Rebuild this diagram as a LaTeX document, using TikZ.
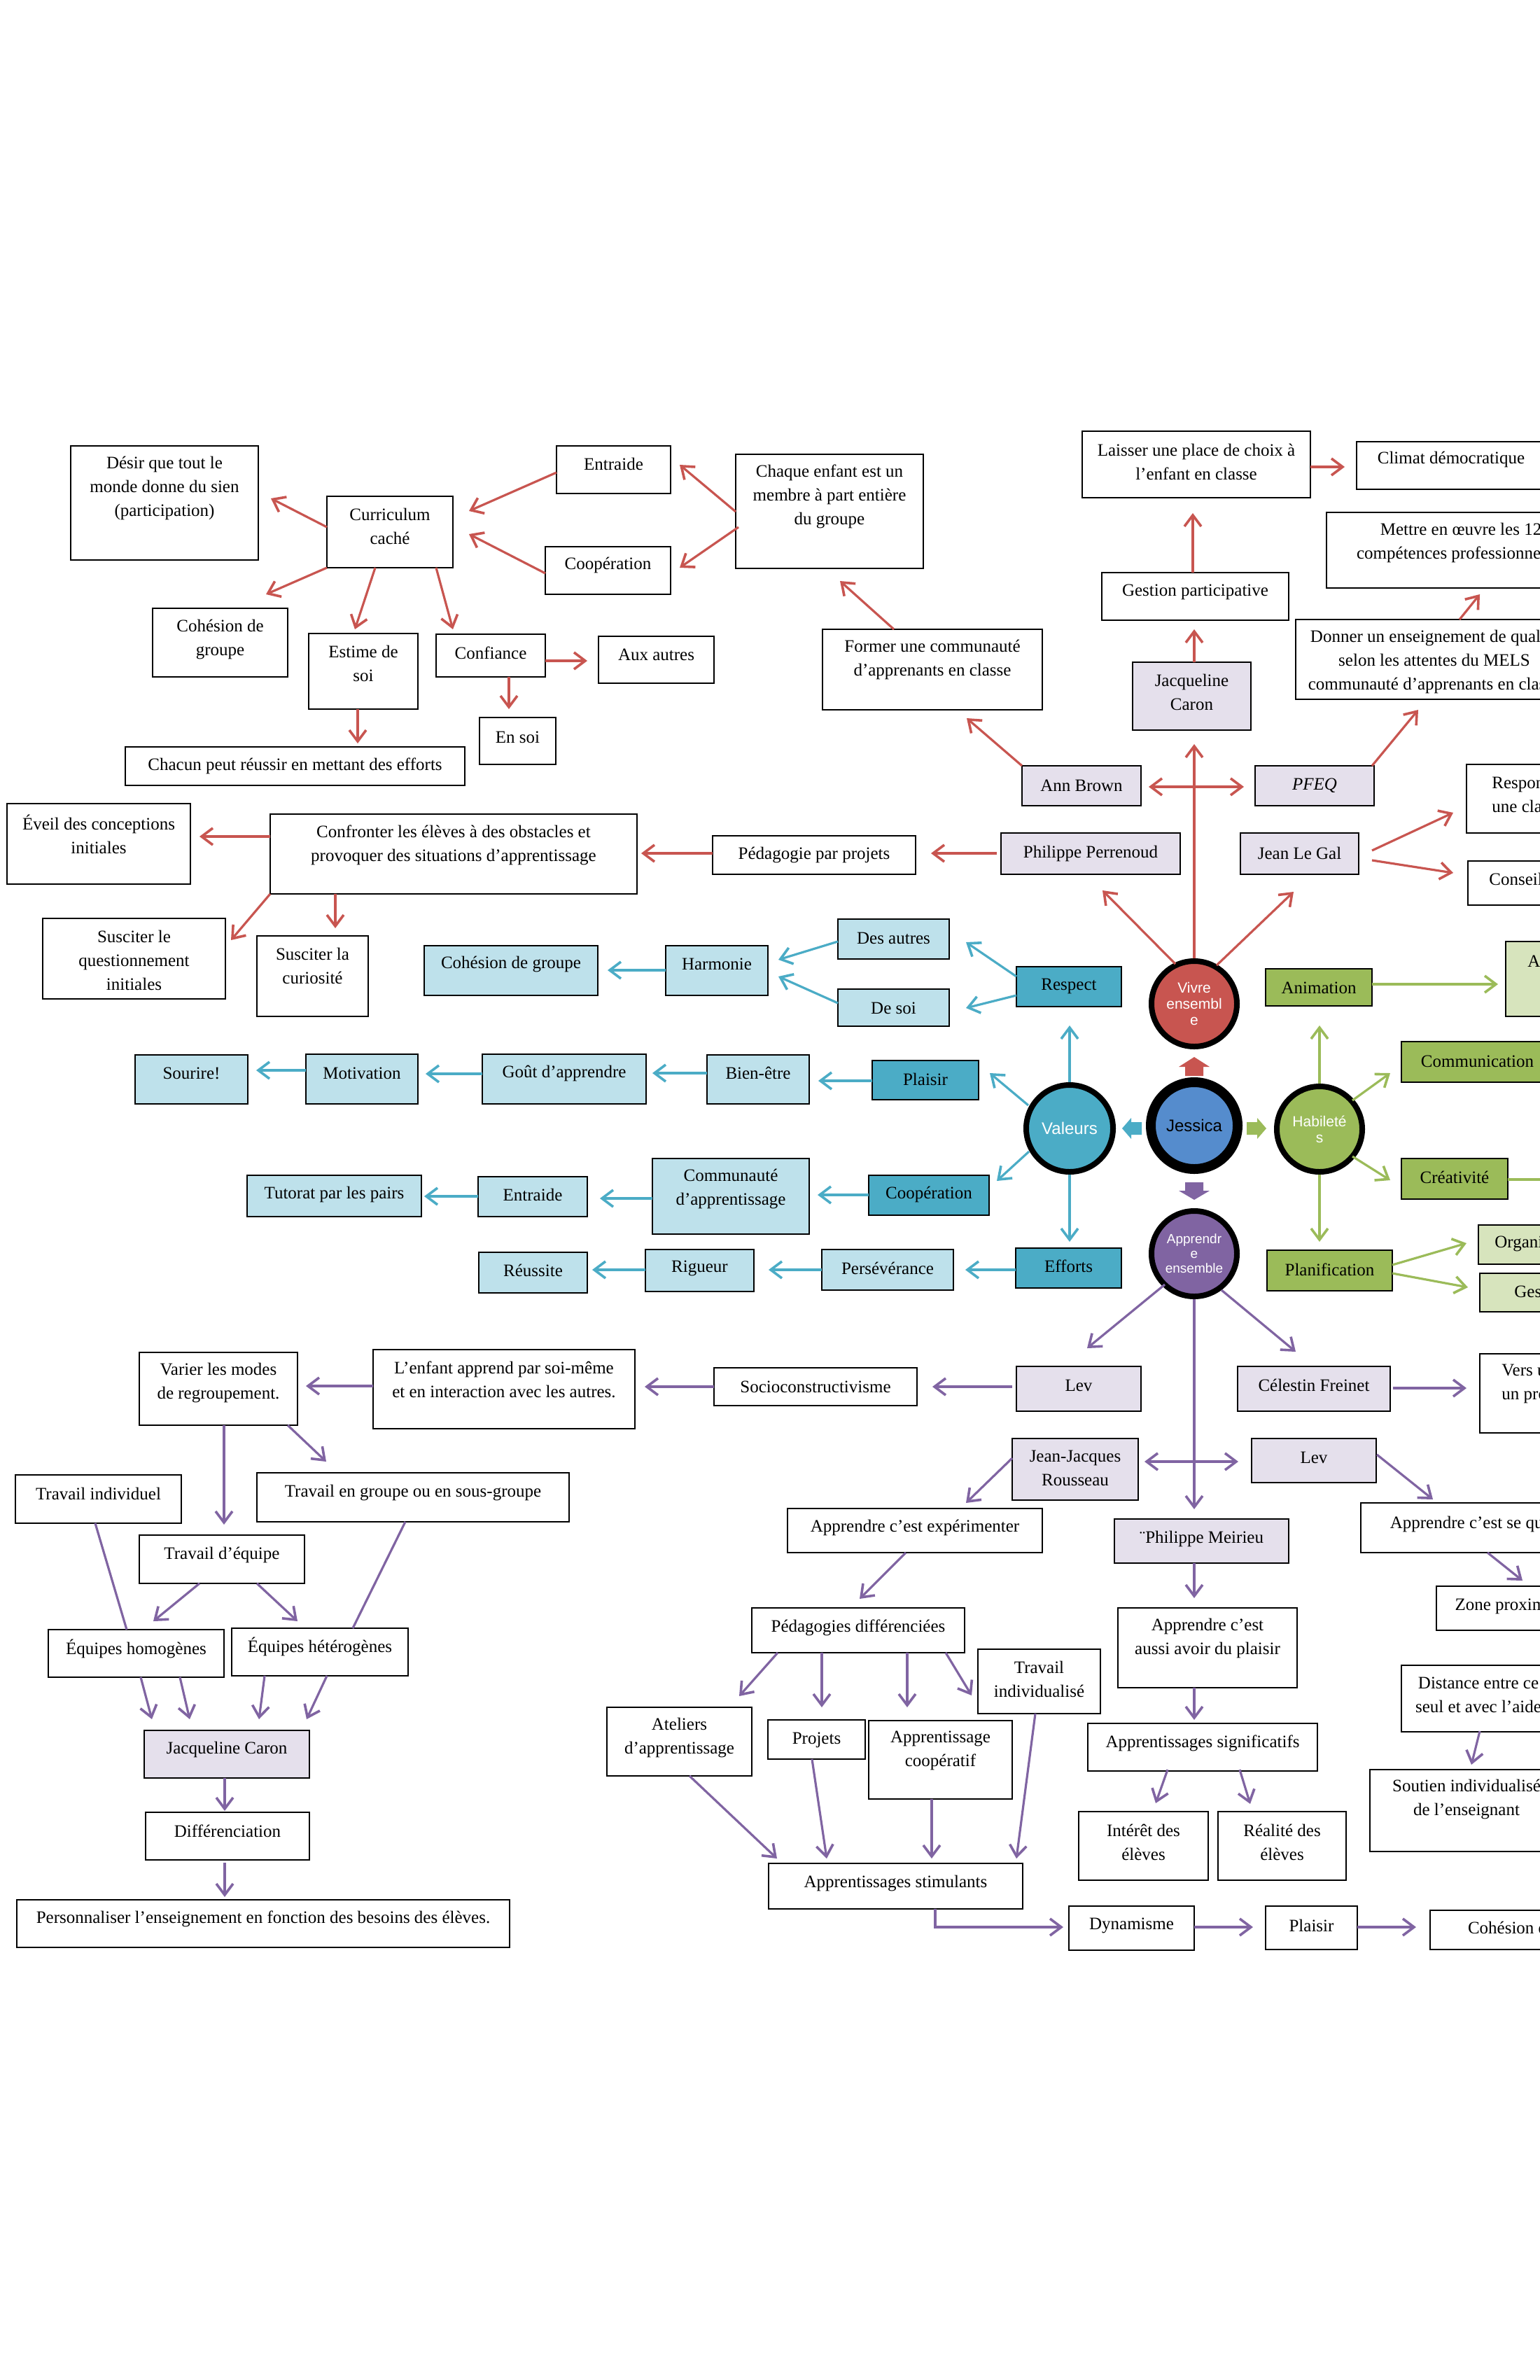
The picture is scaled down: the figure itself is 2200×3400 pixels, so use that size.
\documentclass[tikz,border=0pt]{standalone}
\usepackage{fontspec}
\setmainfont{Liberation Serif}
\newfontfamily\sansf{Liberation Sans}
\usetikzlibrary{arrows.meta,calc}
\definecolor{cred}{RGB}{200,85,80}
\definecolor{cblue}{RGB}{75,172,198}
\definecolor{clblue}{RGB}{190,225,235}
\definecolor{cgreen}{RGB}{155,187,89}
\definecolor{clgreen}{RGB}{215,228,189}
\definecolor{cpurp}{RGB}{128,100,162}
\definecolor{clav}{RGB}{229,224,236}
\definecolor{cjes}{RGB}{85,140,205}
\tikzset{
  every node/.style={font=\fontsize{12.5pt}{17pt}\selectfont},
  bx/.style={draw=black,line width=1.4pt,inner sep=0pt,outer sep=0pt},
  tx/.style={align=center,inner sep=0pt},
  circ/.style={circle,draw=black,text=white,align=center,inner sep=0pt,
    font=\sansf\fontsize{10.5pt}{11.5pt}\selectfont},
  con/.style={line width=1.6pt,->},
  ra/.style={con,draw=cred},
  ba/.style={con,draw=cblue},
  ga/.style={con,draw=cgreen},
  pa/.style={con,draw=cpurp},
}
\newcommand\bx[8][white]{%
  \node[bx,fill=#1,minimum width={(#5-#3)*0.5pt},minimum height={(#6-#4)*0.5pt}] (#2) at ({(#3+#5)/2},{(#4+#6)/2}) {};
  \node[tx] (#2-t) at ({(#3+#5)/2},#7) {#8};}
\newcommand\bxw[9][white]{%
  \node[bx,fill=#1,minimum width={(#5-#3)*0.5pt},minimum height={(#6-#4)*0.5pt}] (#2) at ({(#3+#5)/2},{(#4+#6)/2}) {};
  \node[tx,align=left,anchor=west] (#2-t) at (#7,#8) {#9};}
\begin{document}
\begin{tikzpicture}[x=0.5pt,y=-0.5pt,>={Straight Barb[length=8pt,width=12pt,line width=1.8pt]}]
\useasboundingbox (0,0) rectangle (2200,3400);
\clip (0,0) rectangle (2200,3400);
\fill[white] (0,0) rectangle (2200,3400);

% ---------- red part ----------
\bx{desir}{101}{637}{369}{800}{697}{Désir que tout le\\monde donne du sien\\(participation)}
\bx{curr}{467}{709}{647}{811}{752}{Curriculum\\caché}
\bx{coh1}{218}{869}{411}{967}{913}{Cohésion de\\groupe}
\bx{estime}{441}{905}{597}{1013}{948}{Estime de\\soi}
\bx{conf}{623}{906}{779}{967}{933}{Confiance}
\bx{ensoi}{685}{1025}{794}{1092}{1053}{En soi}
\bx{chacun}{179}{1067}{664}{1122}{1094}{Chacun peut réussir en mettant des efforts}
\bx{entr1}{795}{637}{958}{705}{663}{Entraide}
\bx{coop1}{779}{781}{958}{849}{807}{Coopération}
\bx{chaque}{1051}{649}{1319}{812}{709}{Chaque enfant est un\\membre à part entière\\du groupe}
\bx{former}{1175}{899}{1489}{1014}{942}{Former une communauté\\d’apprenants en classe}
\bx{aux}{855}{909}{1020}{976}{935}{Aux autres}
\bx{laisser}{1546}{616}{1872}{711}{660}{Laisser une place de choix à\\l’enfant en classe}
\bx{climat}{1938}{631}{2208}{699}{656}{Climat démocratique}
\bx{mettre}{1895}{732}{2279}{840}{775}{Mettre en œuvre les 12\\compétences professionnelles}
\bx{gestion}{1574}{818}{1841}{886}{846}{Gestion participative}
\bx[clav]{jc1}{1618}{946}{1787}{1043}{989}{Jacqueline\\Caron}
\bx{donner}{1851}{885}{2247}{999}{945}{Donner un enseignement de qualité\\selon les attentes du MELS\\communauté d’apprenants en classe}
\bx[clav]{annb}{1460}{1094}{1630}{1151}{1122}{Ann Brown}
\bx[clav]{pfeq}{1793}{1094}{1963}{1151}{1122}{\itshape PFEQ}
\bxw{respo}{2095}{1092}{2300}{1190}{2131}{1135}{Responsabiliser\\une classe}
\bx[clav]{pperr}{1430}{1190}{1686}{1249}{1219}{Philippe Perrenoud}
\bx[clav]{legal}{1772}{1190}{1941}{1249}{1219}{Jean Le Gal}
\bxw{conseil}{2097}{1230}{2300}{1293}{2127}{1258}{Conseil de coopération}
\bx{confr}{386}{1163}{910}{1277}{1207}{Confronter les élèves à des obstacles et\\provoquer des situations d’apprentissage}
\bx{pedproj}{1018}{1194}{1308}{1249}{1221}{Pédagogie par projets}
\bx{eveil}{10}{1148}{272}{1263}{1192}{Éveil des conceptions\\initiales}
\bx{susq}{61}{1312}{322}{1427}{1372}{Susciter le\\questionnement\\initiales}
\bx{susc}{367}{1337}{526}{1452}{1380}{Susciter la\\curiosité}

% ---------- blue part ----------
\bx[cblue]{respect}{1452}{1381}{1602}{1438}{1409}{Respect}
\bx[clblue]{desautres}{1197}{1313}{1356}{1370}{1340}{Des autres}
\bx[clblue]{desoi}{1197}{1413}{1356}{1466}{1440}{De soi}
\bx[clblue]{harmonie}{951}{1351}{1097}{1422}{1377}{Harmonie}
\bx[clblue]{coh2}{606}{1351}{854}{1422}{1377}{Cohésion de groupe}
\bx[cblue]{plaisir1}{1246}{1515}{1398}{1571}{1542}{Plaisir}
\bx[clblue]{bienetre}{1010}{1507}{1156}{1577}{1533}{Bien-être}
\bx[clblue]{gout}{689}{1506}{923}{1577}{1533}{Goût d’apprendre}
\bx[clblue]{motiv}{437}{1506}{597}{1577}{1533}{Motivation}
\bx[clblue]{sourire}{193}{1507}{354}{1577}{1533}{Sourire!}
\bx[cblue]{coop2}{1241}{1679}{1413}{1736}{1706}{Coopération}
\bx[clblue]{commu}{932}{1655}{1156}{1763}{1698}{Communauté\\d’apprentissage}
\bx[clblue]{entr2}{683}{1681}{839}{1738}{1707}{Entraide}
\bx[clblue]{tutorat}{353}{1679}{602}{1738}{1706}{Tutorat par les pairs}
\bx[cblue]{efforts}{1451}{1783}{1602}{1840}{1809}{Efforts}
\bx[clblue]{perse}{1174}{1785}{1362}{1843}{1812}{Persévérance}
\bx[clblue]{rigueur}{922}{1785}{1077}{1845}{1812}{Rigueur}
\bx[clblue]{reussite}{684}{1789}{839}{1847}{1815}{Réussite}

% ---------- green part ----------
\bx[cgreen]{anim}{1808}{1384}{1960}{1437}{1411}{Animation}
\bxw[clgreen]{abox}{2151}{1345}{2300}{1452}{2182}{1373}{Activités}
\bx[cgreen]{comm}{2002}{1488}{2219}{1546}{1516}{Communication}
\bx[cgreen]{creat}{2002}{1655}{2154}{1713}{1682}{Créativité}
\bx[cgreen]{planif}{1810}{1786}{1989}{1844}{1814}{Planification}
\bxw[clgreen]{organ}{2112}{1750}{2300}{1806}{2135}{1777}{Organisation}
\bxw[clgreen]{ges}{2114}{1819}{2300}{1874}{2163}{1845}{Gestion}

% ---------- purple part ----------
\bx[clav]{lev1}{1452}{1952}{1630}{2016}{1979}{Lev}
\bx[clav]{celestin}{1768}{1952}{1986}{2016}{1979}{Célestin Freinet}
\bxw{vers}{2114}{1934}{2300}{2047}{2145}{1977}{Vers une\\un projet}
\bx{socio}{1020}{1954}{1310}{2008}{1981}{Socioconstructivisme}
\bx{lenfant}{533}{1928}{907}{2041}{1971}{L’enfant apprend par soi-même\\et en interaction avec les autres.}
\bx{varier}{199}{1932}{425}{2036}{1975}{Varier les modes\\de regroupement.}
\bx{travind}{22}{2107}{259}{2176}{2134}{Travail individuel}
\bx{travgrp}{367}{2104}{813}{2174}{2132}{Travail en groupe ou en sous-groupe}
\bx{traveq}{199}{2193}{435}{2262}{2221}{Travail d’équipe}
\bx{eqhom}{69}{2328}{320}{2396}{2355}{Équipes homogènes}
\bx{eqhet}{331}{2326}{583}{2394}{2352}{Équipes hétérogènes}
\bx[clav]{jc2}{206}{2472}{442}{2540}{2499}{Jacqueline Caron}
\bx{diff}{208}{2589}{442}{2657}{2616}{Différenciation}
\bx{perso}{24}{2714}{728}{2782}{2741}{Personnaliser l’enseignement en fonction des besoins des élèves.}
\bx[clav]{jjr}{1446}{2055}{1626}{2143}{2097}{Jean-Jacques\\Rousseau}
\bx[clav]{lev2}{1788}{2055}{1966}{2118}{2082}{Lev}
\bx{appexp}{1125}{2155}{1489}{2218}{2182}{Apprendre c’est expérimenter}
\bx[clav]{meirieu}{1592}{2170}{1841}{2233}{2198}{¨Philippe Meirieu}
\bx{appsq}{1944}{2147}{2338}{2218}{2177}{Apprendre c’est se questionner}
\bx{peddiff}{1074}{2297}{1378}{2361}{2325}{Pédagogies différenciées}
\bx{ateliers}{867}{2439}{1074}{2537}{2482}{Ateliers\\d’apprentissage}
\bx{projets}{1097}{2457}{1236}{2513}{2486}{Projets}
\bx{appcoop}{1241}{2458}{1446}{2570}{2501}{Apprentissage\\coopératif}
\bx{travindiv}{1397}{2356}{1572}{2448}{2399}{Travail\\individualisé}
\bx{appstim}{1098}{2662}{1461}{2727}{2690}{Apprentissages stimulants}
\bx{appplaisir}{1597}{2297}{1853}{2411}{2340}{Apprendre c’est\\aussi avoir du plaisir}
\bx{appsig}{1554}{2462}{1882}{2530}{2490}{Apprentissages significatifs}
\bx{interet}{1541}{2588}{1726}{2686}{2632}{Intérêt des\\élèves}
\bx{realite}{1740}{2588}{1923}{2686}{2632}{Réalité des\\élèves}
\bx{dyna}{1527}{2723}{1706}{2786}{2751}{Dynamisme}
\bx{plaisir2}{1808}{2723}{1939}{2785}{2751}{Plaisir}
\bx{cohe3}{2043}{2729}{2351}{2785}{2756}{Cohésion de groupe}
\bx{zone}{2052}{2266}{2264}{2329}{2294}{Zone proximale}
\bx{distance}{2002}{2379}{2222}{2474}{2421}{Distance entre ce\\seul et avec l’aide}
\bx{soutien}{1957}{2528}{2233}{2645}{2570}{Soutien individualisé\\de l’enseignant}

% ---------- circles ----------
\node[circ,fill=cred,line width=4pt,minimum size=61pt] (vivre) at (1706,1434) {Vivre\\ensembl\\e};
\node[circ,fill=cblue,line width=4pt,minimum size=62pt,font=\sansf\fontsize{12pt}{13pt}\selectfont] (valeurs) at (1528,1612) {Valeurs};
\node[circ,fill=cjes,line width=7pt,minimum size=62pt,text=black,font=\sansf\fontsize{12pt}{13pt}\selectfont] (jessica) at (1706,1608) {Jessica};
\node[circ,fill=cgreen,line width=4pt,minimum size=61pt] (habil) at (1885,1613) {Habileté\\s};
\node[circ,fill=cpurp,line width=4pt,minimum size=61pt,font=\sansf\fontsize{9.5pt}{10.5pt}\selectfont] (appr) at (1706,1791) {Apprendr\\e\\ensemble};

% block arrows from Jessica
\fill[cred] ($(jessica)+(0,-98)$) -- ++(22,14) -- ++(-9,0) -- ++(0,13) -- ++(-26,0) -- ++(0,-13) -- ++(-9,0) -- cycle;
\fill[cpurp] ($(jessica)+(0,106)$) -- ++(22,-13) -- ++(-9,0) -- ++(0,-12) -- ++(-26,0) -- ++(0,12) -- ++(-9,0) -- cycle;
\fill[cblue] ($(jessica)+(-103,4)$) -- ++(13,-15) -- ++(0,6) -- ++(15,0) -- ++(0,18) -- ++(-15,0) -- ++(0,6) -- cycle;
\fill[cgreen] ($(jessica)+(103,4)$) -- ++(-13,-15) -- ++(0,6) -- ++(-15,0) -- ++(0,18) -- ++(15,0) -- ++(0,6) -- cycle;

% ---------- red connectors ----------
\draw[ra] ($(curr.north west)+(0,44)$) -- ($(desir.north west)+(286,75)$);
\draw[ra] (curr.south west) -- ($(coh1.north west)+(162,-20)$);
\draw[ra] ($(curr.south west)+(69,0)$) -- ($(estime.north west)+(66,-6)$);
\draw[ra] ($(curr.south west)+(156,0)$) -- ($(conf.north west)+(24,-7)$);
\draw[ra] ($(conf.south west)+(104,0)$) -- ($(ensoi.north west)+(42,-12)$);
\draw[ra] ($(estime.south west)+(70,0)$) -- ($(chacun.north west)+(332,-5)$);
\draw[ra] ($(conf.north east)+(0,38)$) -- ($(aux.north west)+(-16,35)$);
\draw[ra] ($(entr1.north west)+(0,38)$) -- ($(curr.north east)+(23,21)$);
\draw[ra] ($(coop1.north west)+(0,38)$) -- ($(curr.north east)+(23,54)$);
\draw[ra] ($(chaque.north west)+(0,82)$) -- ($(entr1.north east)+(13,27)$);
\draw[ra] ($(chaque.north west)+(4,104)$) -- ($(coop1.north east)+(13,30)$);
\draw[ra] ($(former.north west)+(102,0)$) -- ($(chaque.south west)+(149,18)$);
\draw[ra] (annb.north west) -- ($(former.south west)+(206,12)$);
\draw[ra] ($(laisser.north east)+(0,51)$) -- ($(climat.north west)+(-17,36)$);
\draw[ra] ($(gestion.north west)+(130,0)$) -- ($(laisser.south west)+(158,22)$);
\draw[ra] ($(jc1.north west)+(88,0)$) -- ($(gestion.south west)+(132,13)$);
\draw[ra] (vivre.north) -- ($(jc1.south west)+(88,20)$);
\draw[ra,<->] ($(annb.north east)+(11,30)$) -- ($(pfeq.north west)+(-16,30)$);
\draw[ra] ($(pfeq.north east)+(-3,0)$) -- ($(donner.south west)+(175,15)$);
\draw[ra] ($(donner.north west)+(234,0)$) -- ($(mettre.south west)+(219,9)$);
\draw[ra] ($(legal.north east)+(19,25)$) -- ($(respo.north west)+(-19,69)$);
\draw[ra] ($(legal.north east)+(19,39)$) -- ($(conseil.north west)+(-21,17)$);
\draw[ra] ($(vivre)+(-27,-57)$) -- ($(pperr.south west)+(145,23)$);
\draw[ra] ($(vivre)+(32,-55)$) -- ($(legal.south west)+(76,25)$);
\draw[ra] ($(pedproj.north west)+(0,25)$) -- ($(confr.north east)+(6,56)$);
\draw[ra] ($(pperr.north west)+(-6,29)$) -- ($(pedproj.north east)+(22,25)$);
\draw[ra] ($(confr.north west)+(0,32)$) -- ($(eveil.north east)+(13,47)$);
\draw[ra] (confr.south west) -- ($(susq.north east)+(8,31)$);
\draw[ra] ($(confr.south west)+(93,0)$) -- ($(susc.north west)+(112,-11)$);

% ---------- blue connectors ----------
\draw[ba] (valeurs.north) -- ($(respect.south west)+(76,27)$);
\draw[ba] ($(respect.north west)+(0,14)$) -- ($(desautres.north east)+(24,33)$);
\draw[ba] ($(respect.north west)+(0,41)$) -- ($(desoi.north east)+(24,27)$);
\draw[ba] ($(desautres.north west)+(0,32)$) -- ($(harmonie.north east)+(15,20)$);
\draw[ba] ($(desoi.north west)+(0,20)$) -- ($(harmonie.north east)+(15,44)$);
\draw[ba] ($(harmonie.north west)+(0,35)$) -- ($(coh2.north east)+(14,35)$);
\draw[ba] ($(valeurs)+(-59,-33)$) -- ($(plaisir1.north east)+(16,18)$);
\draw[ba] ($(plaisir1.north west)+(0,29)$) -- ($(bienetre.north east)+(13,37)$);
\draw[ba] ($(bienetre.north west)+(0,26)$) -- ($(gout.north east)+(9,27)$);
\draw[ba] ($(gout.north west)+(0,28)$) -- ($(motiv.north east)+(11,28)$);
\draw[ba] ($(motiv.north west)+(0,23)$) -- ($(sourire.north east)+(12,22)$);
\draw[ba] ($(valeurs)+(-58,33)$) -- ($(coop2.north east)+(11,8)$);
\draw[ba] ($(coop2.north west)+(0,28)$) -- ($(commu.north east)+(12,52)$);
\draw[ba] ($(commu.north west)+(0,57)$) -- ($(entr2.north east)+(18,31)$);
\draw[ba] ($(entr2.north west)+(0,28)$) -- ($(tutorat.north east)+(4,30)$);
\draw[ba] (valeurs.south) -- ($(efforts.north west)+(77,-9)$);
\draw[ba] ($(efforts.north west)+(0,31)$) -- ($(perse.north east)+(17,29)$);
\draw[ba] ($(perse.north west)+(0,29)$) -- ($(rigueur.north east)+(21,29)$);
\draw[ba] ($(rigueur.north west)+(0,29)$) -- ($(reussite.north east)+(7,25)$);

% ---------- green connectors ----------
\draw[ga] (habil.north) -- ($(anim.south west)+(77,28)$);
\draw[ga] ($(anim.north east)+(0,22)$) -- ($(abox.north west)+(-11,61)$);
\draw[ga] ($(habil)+(47,-41)$) -- ($(comm.north west)+(-16,45)$);
\draw[ga] ($(habil)+(47,39)$) -- ($(creat.north west)+(-16,31)$);
\coordinate (creatend) at (2260,1685);
\draw[ga,-] ($(creat.north east)+(0,30)$) -- (creatend);
\draw[ga] (habil.south) -- ($(planif.north west)+(75,-12)$);
\draw[ga] ($(planif.north east)+(0,21)$) -- ($(organ.north west)+(-17,26)$);
\draw[ga] ($(planif.north east)+(0,33)$) -- ($(ges.north west)+(-17,20)$);

% ---------- purple connectors ----------
\draw[pa] ($(appr)+(-42,44)$) -- ($(lev1.north west)+(101,-26)$);
\draw[pa] ($(appr)+(39,52)$) -- ($(celestin.north west)+(83,-21)$);
\draw[pa] (appr.south) -- ($(meirieu.north west)+(114,-14)$);
\draw[pa,<->] ($(jjr.north east)+(9,33)$) -- ($(lev2.north west)+(-19,33)$);
\draw[pa] ($(celestin.north east)+(4,31)$) -- ($(vers.north west)+(-19,49)$);
\draw[pa] ($(lev1.north west)+(-6,29)$) -- ($(socio.north east)+(22,27)$);
\draw[pa] ($(socio.north west)+(0,27)$) -- ($(lenfant.north east)+(14,53)$);
\draw[pa] ($(lenfant.north west)+(0,52)$) -- ($(varier.north east)+(12,48)$);
\draw[pa] ($(varier.south west)+(121,0)$) -- ($(traveq.north west)+(121,-15)$);
\draw[pa] ($(varier.south west)+(212,0)$) -- ($(travgrp.north west)+(99,-16)$);
\draw[pa,-] ($(travind.south west)+(114,0)$) -- ($(eqhom.north west)+(112,0)$);
\draw[pa,-] ($(travgrp.south west)+(212,0)$) -- ($(eqhet.north west)+(173,0)$);
\draw[pa] ($(traveq.south west)+(86,0)$) -- ($(eqhom.north west)+(150,-12)$);
\draw[pa] ($(traveq.south west)+(168,0)$) -- ($(eqhet.north west)+(94,-10)$);
\draw[pa] ($(eqhom.south west)+(132,0)$) -- ($(jc2.north west)+(11,-16)$);
\draw[pa] ($(eqhom.south west)+(188,0)$) -- ($(jc2.north west)+(65,-16)$);
\draw[pa] ($(eqhet.south west)+(47,0)$) -- ($(jc2.north west)+(164,-16)$);
\draw[pa] ($(eqhet.south west)+(136,0)$) -- ($(jc2.north west)+(232,-16)$);
\draw[pa] ($(jc2.south west)+(115,0)$) -- ($(diff.north west)+(113,-2)$);
\draw[pa] ($(diff.south west)+(113,4)$) -- ($(perso.north west)+(297,-4)$);
\draw[pa] ($(jjr.north west)+(0,28)$) -- ($(appexp.north west)+(255,-8)$);
\draw[pa] ($(lev2.north east)+(1,23)$) -- ($(appsq.north west)+(103,-5)$);
\draw[pa] ($(appexp.south west)+(169,0)$) -- ($(peddiff.north west)+(154,-13)$);
\draw[pa] ($(peddiff.south west)+(37,0)$) -- ($(ateliers.north west)+(189,-16)$);
\draw[pa] ($(peddiff.south west)+(100,0)$) -- ($(projets.north west)+(77,-18)$);
\draw[pa] ($(peddiff.south west)+(222,0)$) -- ($(appcoop.north west)+(55,-19)$);
\draw[pa] ($(peddiff.south west)+(277,0)$) -- ($(travindiv.north west)+(-9,66)$);
\draw[pa] ($(ateliers.south west)+(118,0)$) -- ($(appstim.north west)+(12,-7)$);
\draw[pa] ($(projets.south west)+(63,0)$) -- ($(appstim.north west)+(83,-7)$);
\draw[pa] ($(appcoop.south west)+(90,0)$) -- ($(appstim.north west)+(233,-7)$);
\draw[pa] ($(travindiv.south west)+(82,0)$) -- ($(appstim.north west)+(354,-7)$);
\draw[pa] ($(appstim.south west)+(238,0)$) |- ($(dyna.north west)+(-8,30)$);
\draw[pa] ($(meirieu.south west)+(114,0)$) -- ($(appplaisir.north west)+(109,-14)$);
\draw[pa] ($(appplaisir.south west)+(109,0)$) -- ($(appsig.north west)+(152,-5)$);
\draw[pa] ($(appsig.south west)+(114,-2)$) -- ($(interet.north west)+(110,-12)$);
\draw[pa] ($(appsig.south west)+(217,-2)$) -- ($(realite.north west)+(46,-11)$);
\draw[pa] ($(dyna.north east)+(0,30)$) -- ($(plaisir2.north west)+(-18,30)$);
\draw[pa] ($(plaisir2.north east)+(0,30)$) -- ($(cohe3.north west)+(-20,24)$);
\draw[pa] ($(appsq.south west)+(181,0)$) -- ($(zone.north west)+(123,-8)$);
\draw[pa] ($(distance.south west)+(112,-1)$) -- ($(soutien.north west)+(145,-7)$);
\end{tikzpicture}
\end{document}
